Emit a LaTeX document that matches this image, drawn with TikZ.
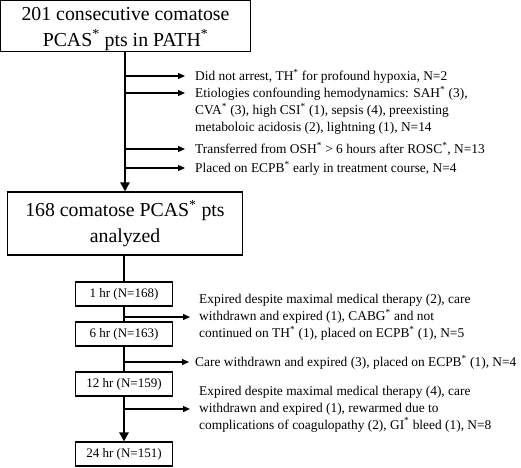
\documentclass[tikz,border=0pt]{standalone}
\usepackage{fontspec}
\setmainfont{Liberation Serif}
\usetikzlibrary{arrows.meta}
\newcommand{\st}{\textsuperscript{*}}

\begin{document}
\begin{tikzpicture}[x=1pt,y=-1pt,
        bigbox/.style={draw,line width=1.2pt,inner sep=0pt,align=center,
            font=\fontsize{19.8}{25.5}\selectfont},
        hrbox/.style={draw,line width=1.1pt,inner sep=0pt,minimum width=97pt,
            minimum height=24pt,font=\fontsize{13}{15}\selectfont},
        note/.style={anchor=west,align=left,inner xsep=10pt,inner ysep=0pt,
            font=\fontsize{13.4}{17}\selectfont},
        trunk/.style={line width=2.8pt},
        branch/.style={line width=1.2pt,-{Triangle[length=7pt,width=6pt]}}]
        \useasboundingbox (0,0) rectangle (521,467);
        \def\tx{125} \def\nx{185}

        % top part: exclusions
        \node (top) at (125.5,26) [bigbox,minimum width=250pt,minimum height=51pt] {};
        \node (toptext) at (125.5,29) [bigbox,draw=none]
            {201 consecutive comatose\\PCAS\st{} pts in PATH\st};
        \node (analyzed) at (125,223.5) [bigbox,minimum width=235pt,minimum height=63pt]
            {168 comatose PCAS\st{} pts\\analyzed};
        \draw[trunk,-{Triangle[length=9pt,width=9pt]}] (top.south -| analyzed.north) -- (analyzed.north);

        \coordinate (b1) at (\tx,76);
        \coordinate (b2) at (\tx,93);
        \coordinate (b3) at (\tx,149);
        \coordinate (b4) at (\tx,168);
        \node (arrest) at (\nx,76) [note] {Did not arrest, TH\st{} for profound hypoxia, N=2};
        \node (etiol) at (\nx,110.5) [note] {Etiologies confounding hemodynamics: SAH\st{} (3),\\
            CVA\st{} (3), high CSI\st{} (1), sepsis (4), preexisting\\
            metaboloic acidosis (2), lightning (1), N=14};
        \node (osh) at (\nx,149) [note] {Transferred from OSH\st{} > 6 hours after ROSC\st, N=13};
        \node (ecpb) at (\nx,168) [note] {Placed on ECPB\st{} early in treatment course, N=4};
        \draw[branch] (b1) -- (arrest.west);
        \draw[branch] (b2) -- (b2 -| etiol.west);
        \draw[branch] (b3) -- (osh.west);
        \draw[branch] (b4) -- (ecpb.west);

        % bottom part: time points
        \node (h1) at (124,294) [hrbox] {1 hr (N=168)};
        \node (h6) at (124,334) [hrbox] {6 hr (N=163)};
        \node (h12) at (124,384) [hrbox] {12 hr (N=159)};
        \node (h24) at (124,454) [hrbox] {24 hr (N=151)};
        \draw[trunk] (analyzed.south -| h1.north) -- (h1.north);
        \draw[trunk] (h1) -- (h6);
        \draw[trunk] (h6) -- (h12);
        \draw[trunk,-{Triangle[length=9pt,width=9pt]}] (h12.south) -- (h24.north);

        \coordinate (c1) at (124,317);
        \coordinate (c2) at (124,362);
        \coordinate (c3) at (124,409);
        \node (lost1) at (190,317) [note,inner xsep=9pt] {Expired despite maximal medical therapy (2), care\\
            withdrawn and expired (1), CABG\st{} and not\\
            continued on TH\st{} (1), placed on ECPB\st{} (1), N=5};
        \node (lost2) at (189,362) [note,inner xsep=6pt] {Care withdrawn and expired (3), placed on ECPB\st{} (1), N=4};
        \node (lost3) at (190,409) [note,inner xsep=9pt] {Expired despite maximal medical therapy (4), care\\
            withdrawn and expired (1), rewarmed due to\\
            complications of coagulopathy (2), GI\st{} bleed (1), N=8};
        \draw[branch] (c1) -- (lost1.west);
        \draw[branch] (c2) -- (lost2.west);
        \draw[branch] (c3) -- (lost3.west);
    \end{tikzpicture}
\end{document}
